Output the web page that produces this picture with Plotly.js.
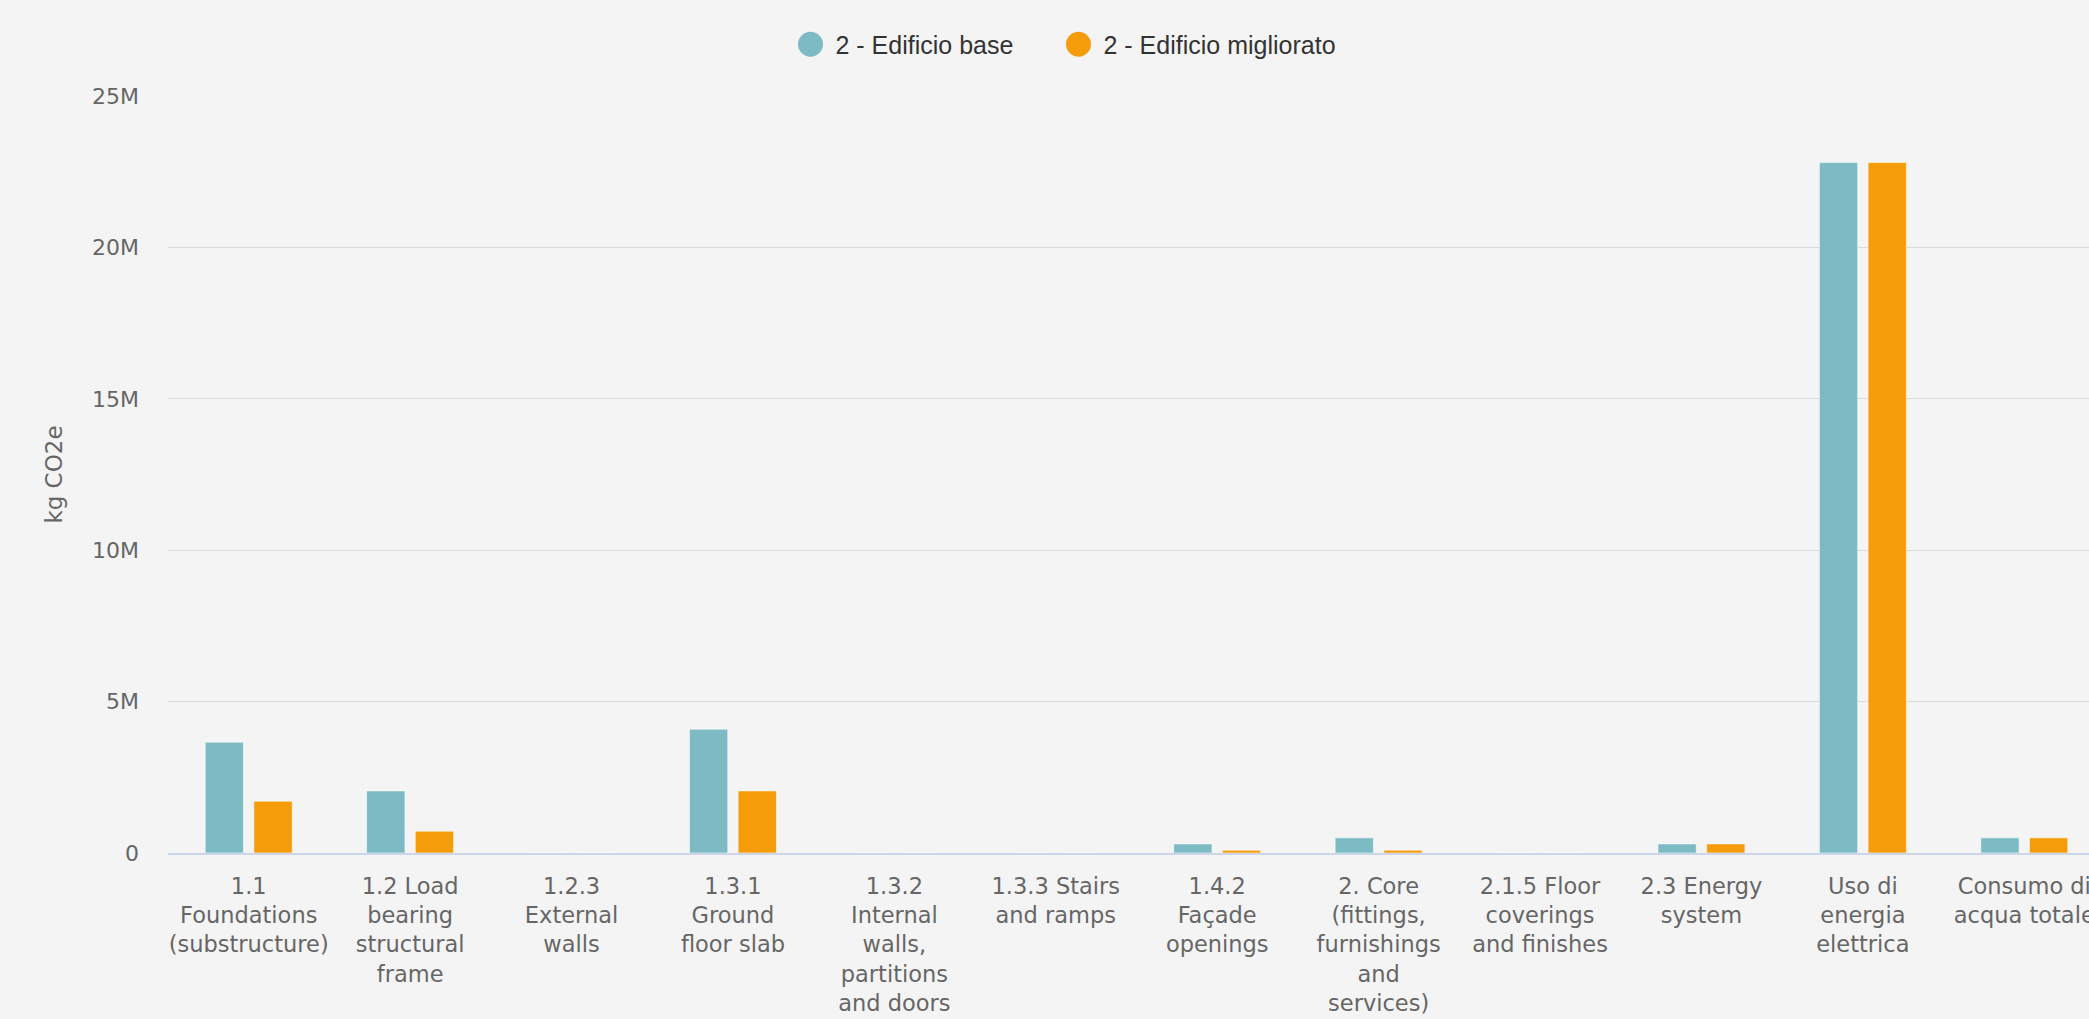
<!DOCTYPE html>
<html>
<head>
<meta charset="utf-8">
<script src="https://cdn.plot.ly/plotly-3.0.1.min.js"></script>
<style>
html,body{margin:0;padding:0;overflow:hidden;background:#f4f4f4;}
#chart{width:2115px;height:1019px;}
</style>
</head>
<body>
<div id="chart"></div>
<script>
const categories = [
  '1.1 Foundations (substructure)',
  '1.2 Load bearing structural frame',
  '1.2.3 External walls',
  '1.3.1 Ground floor slab',
  '1.3.2 Internal walls, partitions and doors',
  '1.3.3 Stairs and ramps',
  '1.4.2 Façade openings',
  '2. Core (fittings, furnishings and services)',
  '2.1.5 Floor coverings and finishes',
  '2.3 Energy system',
  'Uso di energia elettrica',
  'Consumo di acqua totale'
];
const tickLabels = [
  '1.1<br>Foundations<br>(substructure)',
  '1.2 Load<br>bearing<br>structural<br>frame',
  '1.2.3<br>External<br>walls',
  '1.3.1<br>Ground<br>floor slab',
  '1.3.2<br>Internal<br>walls,<br>partitions<br>and doors',
  '1.3.3 Stairs<br>and ramps',
  '1.4.2<br>Façade<br>openings',
  '2. Core<br>(fittings,<br>furnishings<br>and<br>services)',
  '2.1.5 Floor<br>coverings<br>and finishes',
  '2.3 Energy<br>system',
  'Uso di<br>energia<br>elettrica',
  'Consumo di<br>acqua totale'
];
const seriesNames = ['2 - Edificio base', '2 - Edificio migliorato'];
const seriesColors = ['#7cbbc4', '#f49c09'];
const baseValues     = [3660000, 2050000, 0, 4090000, 0, 0, 300000, 500000, 0, 300000, 22800000, 500000];
const improvedValues = [1710000,  720000, 0, 2050000, 0, 0,  90000,  90000, 0, 300000, 22800000, 500000];
const yTickValues = [0, 5000000, 10000000, 15000000, 20000000, 25000000];
const yTickLabels = ['0', '5M', '10M', '15M', '20M', '25M'];
const yTitle = 'kg CO2e';

const seriesValues = [baseValues, improvedValues];
const traces = [];
seriesValues.forEach(function (vals, i) {
  traces.push({
    type: 'bar', x: categories, y: vals, name: seriesNames[i],
    marker: {color: seriesColors[i], line: {color: 'rgba(255,255,255,0.55)', width: 1}},
    showlegend: false, hoverinfo: 'x+y'
  });
});
seriesNames.forEach(function (n, i) {
  traces.push({
    type: 'scatter', mode: 'markers', x: [null], y: [null], name: n,
    marker: {color: seriesColors[i], size: 16, symbol: 'circle'},
    showlegend: true, hoverinfo: 'skip'
  });
});

const layout = {
  width: 2115, height: 1019,
  paper_bgcolor: '#f4f4f4', plot_bgcolor: '#f4f4f4',
  margin: {l: 168, r: 10, t: 96, b: 166},
  barmode: 'group', bargap: 0.397, bargroupgap: 0.213,
  font: {family: 'DejaVu Sans', color: '#666666'},
  xaxis: {
    type: 'category', tickvals: categories, ticktext: tickLabels,
    tickfont: {family: 'DejaVu Sans', size: 22.5, color: '#666666'},
    showline: true, linecolor: '#ccd6eb', linewidth: 1.5,
    ticks: '', showgrid: false, ticklabelstandoff: 12,
    range: [-0.5, 11.5], fixedrange: true
  },
  yaxis: {
    range: [0, 25000000], tickvals: yTickValues, ticktext: yTickLabels,
    tickfont: {family: 'DejaVu Sans', size: 22, color: '#666666'},
    gridcolor: '#dadada', gridwidth: 1.3, zeroline: false, showline: false,
    ticks: '', ticklabelstandoff: 28, fixedrange: true,
    title: {text: yTitle, font: {family: 'DejaVu Sans', size: 23, color: '#666666'}, standoff: 22}
  },
  showlegend: true,
  legend: {
    orientation: 'h', xref: 'container', x: 785.5 / 2115, xanchor: 'left',
    yref: 'container', y: 1 - 44.5 / 1019, yanchor: 'middle',
    font: {family: 'Liberation Sans', size: 25, color: '#333333'},
    itemwidth: 40, entrywidth: 213, bgcolor: 'rgba(0,0,0,0)'
  }
};

Plotly.newPlot('chart', traces, layout, {displayModeBar: false, responsive: false}).then(function () {
  document.querySelectorAll('.legend .legendpoints path.scatterpts').forEach(function (p) {
    p.setAttribute('d', 'M12.5,0A12.5,12.5 0 1,1 0,-12.5A12.5,12.5 0 0,1 12.5,0Z');
  });
  document.querySelectorAll('.legend [clip-path], .legend .groups [clip-path]').forEach(function (el) {
    el.removeAttribute('clip-path');
  });
  document.querySelectorAll('.legend').forEach(function (el) { el.style.overflow = 'visible'; });
});
</script>
</body>
</html>
